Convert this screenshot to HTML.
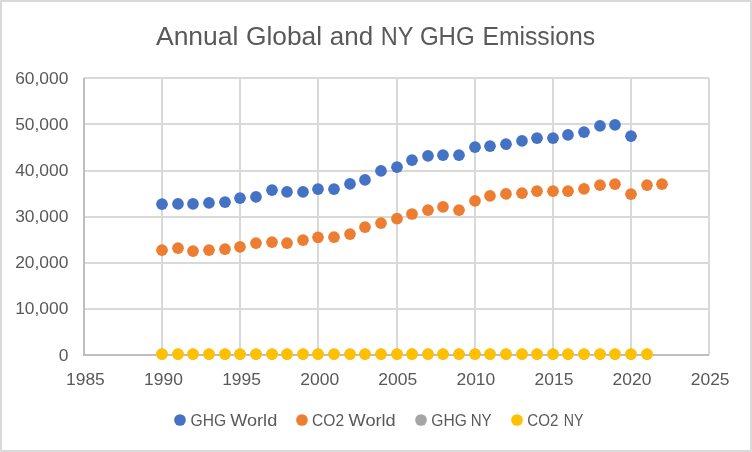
<!DOCTYPE html>
<html lang="en">
<head>
<meta charset="utf-8">
<title>Annual Global and NY GHG Emissions</title>
<style>
html,body{margin:0;padding:0;background:#fff;}
body{width:752px;height:452px;overflow:hidden;}
svg{display:block;}
text{font-family:"Liberation Sans",sans-serif;fill:#595959;}
</style>
</head>
<body>
<svg width="752" height="452" viewBox="0 0 752 452">
<rect x="0" y="0" width="752" height="452" fill="#fff"/>
<g shape-rendering="crispEdges"><rect x="1" y="1" width="750" height="450" fill="#fff" stroke="#D9D9D9" stroke-width="2"/>
<rect x="0" y="0" width="1" height="1" fill="#E6E6E6"/><rect x="751" y="0" width="1" height="1" fill="#E6E6E6"/><rect x="0" y="451" width="1" height="1" fill="#E6E6E6"/><rect x="751" y="451" width="1" height="1" fill="#E6E6E6"/></g>

<g fill="#D9D9D9" shape-rendering="crispEdges">
<rect x="84" y="308" width="625" height="2"/>
<rect x="84" y="262" width="625" height="2"/>
<rect x="84" y="216" width="625" height="2"/>
<rect x="84" y="170" width="625" height="2"/>
<rect x="84" y="123" width="625" height="2"/>
<rect x="84" y="77" width="625" height="2"/>
<rect x="161" y="78" width="2" height="277"/>
<rect x="239" y="78" width="2" height="277"/>
<rect x="317" y="78" width="2" height="277"/>
<rect x="396" y="78" width="2" height="277"/>
<rect x="474" y="78" width="2" height="277"/>
<rect x="552" y="78" width="2" height="277"/>
<rect x="630" y="78" width="2" height="277"/>
<rect x="708" y="78" width="2" height="277"/>
</g>
<g fill="#BFBFBF" shape-rendering="crispEdges">
<rect x="83" y="78" width="2" height="278"/>
<rect x="83" y="354" width="626" height="2"/>
</g>
<g>
<text y="44.60" font-size="25.6"><tspan x="155.98" textLength="82.47" lengthAdjust="spacingAndGlyphs">Annual</tspan> <tspan x="245.92" textLength="76.18" lengthAdjust="spacingAndGlyphs">Global</tspan> <tspan x="329.87" textLength="43.29" lengthAdjust="spacingAndGlyphs">and</tspan> <tspan x="380.81" textLength="32.25" lengthAdjust="spacingAndGlyphs">NY</tspan> <tspan x="419.89" textLength="54.73" lengthAdjust="spacingAndGlyphs">GHG</tspan> <tspan x="482.43" textLength="112.60" lengthAdjust="spacingAndGlyphs">Emissions</tspan></text>
<text y="360.70" font-size="16.9"><tspan x="58.74" textLength="9.68" lengthAdjust="spacingAndGlyphs">0</tspan></text>
<text y="313.70" font-size="16.9"><tspan x="15.16" textLength="53.26" lengthAdjust="spacingAndGlyphs">10,000</tspan></text>
<text y="267.70" font-size="16.9"><tspan x="15.16" textLength="53.26" lengthAdjust="spacingAndGlyphs">20,000</tspan></text>
<text y="221.70" font-size="16.9"><tspan x="15.16" textLength="53.26" lengthAdjust="spacingAndGlyphs">30,000</tspan></text>
<text y="175.70" font-size="16.9"><tspan x="15.16" textLength="53.26" lengthAdjust="spacingAndGlyphs">40,000</tspan></text>
<text y="129.70" font-size="16.9"><tspan x="15.16" textLength="53.26" lengthAdjust="spacingAndGlyphs">50,000</tspan></text>
<text y="83.70" font-size="16.9"><tspan x="15.16" textLength="53.26" lengthAdjust="spacingAndGlyphs">60,000</tspan></text>
<text y="385.00" font-size="16.9"><tspan x="65.97" textLength="38.87" lengthAdjust="spacingAndGlyphs">1985</tspan></text>
<text y="385.00" font-size="16.9"><tspan x="144.06" textLength="38.87" lengthAdjust="spacingAndGlyphs">1990</tspan></text>
<text y="385.00" font-size="16.9"><tspan x="222.16" textLength="38.87" lengthAdjust="spacingAndGlyphs">1995</tspan></text>
<text y="385.00" font-size="16.9"><tspan x="300.25" textLength="38.87" lengthAdjust="spacingAndGlyphs">2000</tspan></text>
<text y="385.00" font-size="16.9"><tspan x="378.35" textLength="38.87" lengthAdjust="spacingAndGlyphs">2005</tspan></text>
<text y="385.00" font-size="16.9"><tspan x="456.44" textLength="38.87" lengthAdjust="spacingAndGlyphs">2010</tspan></text>
<text y="385.00" font-size="16.9"><tspan x="534.53" textLength="38.87" lengthAdjust="spacingAndGlyphs">2015</tspan></text>
<text y="385.00" font-size="16.9"><tspan x="612.63" textLength="38.87" lengthAdjust="spacingAndGlyphs">2020</tspan></text>
<text y="385.00" font-size="16.9"><tspan x="690.72" textLength="38.87" lengthAdjust="spacingAndGlyphs">2025</tspan></text>
<text y="425.70" font-size="16.4"><tspan x="190.55" textLength="35.49" lengthAdjust="spacingAndGlyphs">GHG</tspan> <tspan x="230.19" textLength="47.06" lengthAdjust="spacingAndGlyphs">World</tspan></text>
<text y="425.70" font-size="16.4"><tspan x="312.10" textLength="31.95" lengthAdjust="spacingAndGlyphs">CO2</tspan> <tspan x="348.58" textLength="47.09" lengthAdjust="spacingAndGlyphs">World</tspan></text>
<text y="425.70" font-size="16.4"><tspan x="431.32" textLength="35.52" lengthAdjust="spacingAndGlyphs">GHG</tspan> <tspan x="470.68" textLength="20.97" lengthAdjust="spacingAndGlyphs">NY</tspan></text>
<text y="425.70" font-size="16.4"><tspan x="527.32" textLength="31.13" lengthAdjust="spacingAndGlyphs">CO2</tspan> <tspan x="563.87" textLength="19.73" lengthAdjust="spacingAndGlyphs">NY</tspan></text>
</g>
<g fill="#4472C4">
<circle cx="162.00" cy="204.20" r="5.85"/>
<circle cx="178.00" cy="203.95" r="5.85"/>
<circle cx="193.00" cy="203.95" r="5.85"/>
<circle cx="209.00" cy="202.95" r="5.85"/>
<circle cx="225.00" cy="202.20" r="5.85"/>
<circle cx="240.00" cy="198.20" r="5.85"/>
<circle cx="256.00" cy="196.95" r="5.85"/>
<circle cx="272.00" cy="190.20" r="5.85"/>
<circle cx="287.00" cy="191.95" r="5.85"/>
<circle cx="303.00" cy="191.95" r="5.85"/>
<circle cx="318.00" cy="189.20" r="5.85"/>
<circle cx="334.00" cy="189.20" r="5.85"/>
<circle cx="350.00" cy="183.95" r="5.85"/>
<circle cx="365.00" cy="179.95" r="5.85"/>
<circle cx="381.00" cy="170.95" r="5.85"/>
<circle cx="397.00" cy="167.20" r="5.85"/>
<circle cx="412.00" cy="160.20" r="5.85"/>
<circle cx="428.00" cy="155.95" r="5.85"/>
<circle cx="443.00" cy="155.20" r="5.85"/>
<circle cx="459.00" cy="155.20" r="5.85"/>
<circle cx="475.00" cy="147.20" r="5.85"/>
<circle cx="490.00" cy="146.20" r="5.85"/>
<circle cx="506.00" cy="144.20" r="5.85"/>
<circle cx="522.00" cy="140.95" r="5.85"/>
<circle cx="537.00" cy="138.20" r="5.85"/>
<circle cx="553.00" cy="138.20" r="5.85"/>
<circle cx="568.00" cy="134.95" r="5.85"/>
<circle cx="584.00" cy="132.20" r="5.85"/>
<circle cx="600.00" cy="125.95" r="5.85"/>
<circle cx="615.00" cy="124.95" r="5.85"/>
<circle cx="631.00" cy="136.20" r="5.85"/>
</g>
<g fill="#ED7D31">
<circle cx="162.00" cy="250.20" r="5.85"/>
<circle cx="178.00" cy="248.20" r="5.85"/>
<circle cx="193.00" cy="251.20" r="5.85"/>
<circle cx="209.00" cy="250.20" r="5.85"/>
<circle cx="225.00" cy="249.20" r="5.85"/>
<circle cx="240.00" cy="246.95" r="5.85"/>
<circle cx="256.00" cy="243.20" r="5.85"/>
<circle cx="272.00" cy="242.20" r="5.85"/>
<circle cx="287.00" cy="243.20" r="5.85"/>
<circle cx="303.00" cy="240.10" r="5.85"/>
<circle cx="318.00" cy="237.30" r="5.85"/>
<circle cx="334.00" cy="237.20" r="5.85"/>
<circle cx="350.00" cy="234.10" r="5.85"/>
<circle cx="365.00" cy="227.20" r="5.85"/>
<circle cx="381.00" cy="223.20" r="5.85"/>
<circle cx="397.00" cy="218.70" r="5.85"/>
<circle cx="412.00" cy="214.00" r="5.85"/>
<circle cx="428.00" cy="210.20" r="5.85"/>
<circle cx="443.00" cy="206.95" r="5.85"/>
<circle cx="459.00" cy="210.20" r="5.85"/>
<circle cx="475.00" cy="200.95" r="5.85"/>
<circle cx="490.00" cy="195.95" r="5.85"/>
<circle cx="506.00" cy="193.95" r="5.85"/>
<circle cx="522.00" cy="193.20" r="5.85"/>
<circle cx="537.00" cy="191.20" r="5.85"/>
<circle cx="553.00" cy="191.20" r="5.85"/>
<circle cx="568.00" cy="191.20" r="5.85"/>
<circle cx="584.00" cy="188.95" r="5.85"/>
<circle cx="600.00" cy="185.20" r="5.85"/>
<circle cx="615.00" cy="184.20" r="5.85"/>
<circle cx="631.00" cy="194.20" r="5.85"/>
<circle cx="647.00" cy="185.20" r="5.85"/>
<circle cx="662.00" cy="184.20" r="5.85"/>
</g>
<g fill="#A5A5A5">
<circle cx="162.00" cy="354.10" r="5.55"/>
<circle cx="178.00" cy="354.10" r="5.55"/>
<circle cx="193.00" cy="354.10" r="5.55"/>
<circle cx="209.00" cy="354.10" r="5.55"/>
<circle cx="225.00" cy="354.10" r="5.55"/>
<circle cx="240.00" cy="354.10" r="5.55"/>
<circle cx="256.00" cy="354.10" r="5.55"/>
<circle cx="272.00" cy="354.10" r="5.55"/>
<circle cx="287.00" cy="354.10" r="5.55"/>
<circle cx="303.00" cy="354.10" r="5.55"/>
<circle cx="318.00" cy="354.10" r="5.55"/>
<circle cx="334.00" cy="354.10" r="5.55"/>
<circle cx="350.00" cy="354.10" r="5.55"/>
<circle cx="365.00" cy="354.10" r="5.55"/>
<circle cx="381.00" cy="354.10" r="5.55"/>
<circle cx="397.00" cy="354.10" r="5.55"/>
<circle cx="412.00" cy="354.10" r="5.55"/>
<circle cx="428.00" cy="354.10" r="5.55"/>
<circle cx="443.00" cy="354.10" r="5.55"/>
<circle cx="459.00" cy="354.10" r="5.55"/>
<circle cx="475.00" cy="354.10" r="5.55"/>
<circle cx="490.00" cy="354.10" r="5.55"/>
<circle cx="506.00" cy="354.10" r="5.55"/>
<circle cx="522.00" cy="354.10" r="5.55"/>
<circle cx="537.00" cy="354.10" r="5.55"/>
<circle cx="553.00" cy="354.10" r="5.55"/>
<circle cx="568.00" cy="354.10" r="5.55"/>
<circle cx="584.00" cy="354.10" r="5.55"/>
<circle cx="600.00" cy="354.10" r="5.55"/>
<circle cx="615.00" cy="354.10" r="5.55"/>
<circle cx="631.00" cy="354.10" r="5.55"/>
<circle cx="647.00" cy="354.10" r="5.55"/>
</g>
<g fill="#FFC000">
<circle cx="162.00" cy="354.20" r="5.85"/>
<circle cx="178.00" cy="354.20" r="5.85"/>
<circle cx="193.00" cy="354.20" r="5.85"/>
<circle cx="209.00" cy="354.20" r="5.85"/>
<circle cx="225.00" cy="354.20" r="5.85"/>
<circle cx="240.00" cy="354.20" r="5.85"/>
<circle cx="256.00" cy="354.20" r="5.85"/>
<circle cx="272.00" cy="354.20" r="5.85"/>
<circle cx="287.00" cy="354.20" r="5.85"/>
<circle cx="303.00" cy="354.20" r="5.85"/>
<circle cx="318.00" cy="354.20" r="5.85"/>
<circle cx="334.00" cy="354.20" r="5.85"/>
<circle cx="350.00" cy="354.20" r="5.85"/>
<circle cx="365.00" cy="354.20" r="5.85"/>
<circle cx="381.00" cy="354.20" r="5.85"/>
<circle cx="397.00" cy="354.20" r="5.85"/>
<circle cx="412.00" cy="354.20" r="5.85"/>
<circle cx="428.00" cy="354.20" r="5.85"/>
<circle cx="443.00" cy="354.20" r="5.85"/>
<circle cx="459.00" cy="354.20" r="5.85"/>
<circle cx="475.00" cy="354.20" r="5.85"/>
<circle cx="490.00" cy="354.20" r="5.85"/>
<circle cx="506.00" cy="354.20" r="5.85"/>
<circle cx="522.00" cy="354.20" r="5.85"/>
<circle cx="537.00" cy="354.20" r="5.85"/>
<circle cx="553.00" cy="354.20" r="5.85"/>
<circle cx="568.00" cy="354.20" r="5.85"/>
<circle cx="584.00" cy="354.20" r="5.85"/>
<circle cx="600.00" cy="354.20" r="5.85"/>
<circle cx="615.00" cy="354.20" r="5.85"/>
<circle cx="631.00" cy="354.20" r="5.85"/>
<circle cx="647.00" cy="354.20" r="5.85"/>
</g>
<g>
<circle cx="180.00" cy="420" r="5.85" fill="#4472C4"/>
<circle cx="302.00" cy="420" r="5.85" fill="#ED7D31"/>
<circle cx="421.00" cy="420" r="5.85" fill="#A5A5A5"/>
<circle cx="517.00" cy="420" r="5.85" fill="#FFC000"/>
</g>
</svg>
</body>
</html>
